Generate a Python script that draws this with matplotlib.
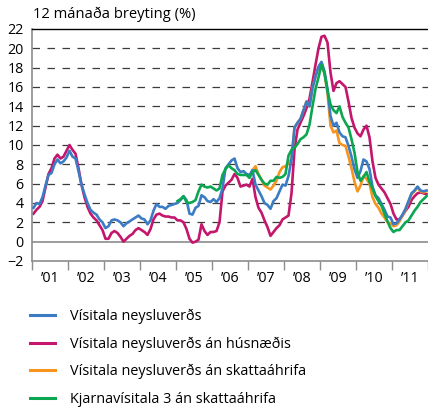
"""Verðbólga 2001-2011: vísitala neysluverðs og undirvísitölur, 12 mánaða breyting."""
import numpy as np
import matplotlib
matplotlib.use("Agg")
import matplotlib.pyplot as plt
from matplotlib.lines import Line2D

plt.rcParams["font.family"] = ["Open Sans", "DejaVu Sans"]

# monthly values, Jan 2001 - Dec 2011
START_YEAR = 2001
cpi = [3.5, 4.0, 3.9, 4.6, 5.8, 6.9, 7.1, 8.0, 8.5, 8.1, 8.3, 8.7,
       9.4, 8.8, 8.6, 7.3, 5.9, 4.9, 4.0, 3.3, 3.0, 2.8, 2.3, 2.0,
       1.4, 1.6, 2.2, 2.3, 2.2, 2.0, 1.6, 1.9, 2.1, 2.3, 2.5, 2.7,
       2.4, 2.3, 1.8, 2.2, 3.2, 3.9, 3.6, 3.6, 3.4, 3.7, 3.8, 3.9,
       4.0, 4.3, 4.7, 4.3, 2.9, 2.8, 3.5, 3.7, 4.8, 4.6, 4.2, 4.1,
       4.4, 4.1, 4.5, 5.5, 7.6, 8.0, 8.4, 8.6, 7.6, 7.2, 7.3, 7.0,
       6.9, 7.4, 5.9, 5.3, 4.7, 4.0, 3.8, 3.4, 4.2, 4.5, 5.2, 5.9,
       5.8, 6.8, 8.5, 11.8, 12.3, 12.7, 13.6, 14.5, 14.0, 15.9, 17.1, 18.1,
       18.6, 17.6, 15.8, 13.0, 12.0, 12.3, 11.3, 10.9, 10.8, 9.9, 8.8, 7.5,
       6.6, 7.3, 8.5, 8.3, 7.5, 5.7, 4.8, 4.5, 3.9, 3.3, 2.6, 2.5,
       1.8, 1.9, 2.3, 2.8, 3.4, 4.2, 5.0, 5.3, 5.7, 5.3, 5.2, 5.3]

cpi_ex_housing = [2.9, 3.3, 3.6, 4.2, 5.6, 7.0, 7.6, 8.6, 9.0, 8.6, 8.8, 9.4,
                  10.0, 9.5, 9.1, 7.6, 5.9, 4.6, 3.6, 2.9, 2.5, 2.2, 1.7, 1.2,
                  0.3, 0.3, 0.9, 1.1, 0.9, 0.5, 0.0, 0.3, 0.6, 0.8, 1.2, 1.4,
                  1.2, 1.0, 0.7, 1.3, 2.3, 2.8, 2.9, 2.7, 2.6, 2.6, 2.5, 2.5,
                  2.2, 2.2, 2.0, 1.3, 0.3, -0.1, 0.0, 0.2, 1.8, 1.1, 0.7, 1.0,
                  1.0, 1.1, 2.0, 5.2, 5.8, 6.1, 6.4, 7.0, 6.6, 5.7, 5.8, 5.9,
                  5.7, 6.5, 4.6, 3.5, 3.0, 2.2, 1.5, 0.6, 1.0, 1.4, 1.7, 2.3,
                  2.5, 2.7, 5.0, 9.5, 11.6, 12.3, 13.0, 13.8, 14.8, 16.5, 18.3, 20.0,
                  21.2, 21.3, 20.6, 17.5, 15.6, 16.4, 16.6, 16.3, 16.0, 14.5, 12.8, 11.8,
                  11.2, 10.9, 11.6, 12.0, 10.8, 8.3, 6.6, 5.9, 5.5, 5.1, 4.5, 3.9,
                  2.9, 2.3, 2.3, 2.7, 3.2, 3.6, 4.3, 4.7, 5.0, 5.1, 5.0, 4.9]

# án skattaáhrifa: from Feb 2007
ex_tax_start = 73
cpi_ex_tax = [7.4, 7.8, 7.0, 6.4, 5.8, 5.6, 5.4, 5.8, 6.3, 7.2, 7.7,
              7.8, 8.1, 8.6, 11.8, 12.3, 12.7, 13.6, 14.5, 14.0, 15.9, 17.1, 18.0,
              18.5, 17.4, 15.4, 12.0, 11.3, 11.5, 10.2, 10.0, 9.9, 8.8, 7.6, 6.2,
              5.2, 5.8, 6.8, 6.5, 6.0, 4.6, 3.9, 3.5, 2.9, 2.5, 2.0, 1.9,
              1.6, 1.7, 2.1, 2.7, 3.3, 4.1, 4.9, 5.2, 5.6, 5.2, 5.1, 5.2]

# kjarnavísitala 3: from Jan 2005
core_start = 48
core3_ex_tax = [4.2, 4.4, 4.7, 4.1, 4.0, 4.1, 4.3, 5.2, 5.9, 5.7, 5.6, 5.7,
                5.5, 5.3, 5.5, 6.9, 7.5, 7.9, 7.6, 7.4, 7.0, 6.9, 6.9, 6.9,
                6.6, 7.2, 7.4, 6.9, 6.4, 6.0, 5.9, 6.3, 6.3, 6.7, 6.6, 6.7,
                7.0, 8.9, 9.5, 9.7, 10.1, 10.6, 10.8, 11.1, 12.1, 14.0, 15.8, 17.0,
                18.3, 17.4, 15.6, 14.2, 13.6, 13.3, 14.0, 12.9, 12.3, 11.8, 10.6, 9.2,
                7.2, 6.3, 6.7, 7.2, 6.2, 5.5, 4.7, 4.2, 3.7, 2.9, 2.1, 1.4,
                1.0, 1.2, 1.2, 1.6, 2.0, 2.2, 2.7, 3.2, 3.6, 4.1, 4.4, 4.7]

labels = ["Vísitala neysluverðs", "Vísitala neysluverðs án húsnæðis",
          "Vísitala neysluverðs án skattaáhrifa", "Kjarnavísitala 3 án skattaáhrifa"]
colors = ["#3b7cc4", "#c4166c", "#f7941d", "#0ba650"]
year_labels = ["\u201901", "\u201902", "\u201903", "\u201904", "\u201905", "\u201906",
               "\u201907", "\u201908", "\u201909", "\u201910", "\u201911"]


def months(start, n):
    # points sit at the middle of each month
    return START_YEAR + (np.arange(start, start + n) + 0.5) / 12


fig = plt.figure(figsize=(4.28, 4.07), dpi=100)
ax = fig.add_axes([32 / 428, 1 - 261 / 407, 396 / 428, 232 / 407])

for v in range(2, 21, 2):
    ax.axhline(v, color="#3c3c3c", lw=0.9, dashes=(6, 6), zorder=1)
ax.axhline(0, color="#8c8c8c", lw=1.2, zorder=1)

lw = 1.9
ax.plot(months(0, len(cpi_ex_housing)), cpi_ex_housing, color=colors[1], lw=lw, zorder=2)
ax.plot(months(ex_tax_start, len(cpi_ex_tax)), cpi_ex_tax, color=colors[2], lw=lw, zorder=3)
ax.plot(months(0, len(cpi)), cpi, color=colors[0], lw=lw, zorder=4)
ax.plot(months(core_start, len(core3_ex_tax)), core3_ex_tax, color=colors[3], lw=lw, zorder=5)

ax.set_xlim(2001, 2012)
ax.set_ylim(-2, 22)
ax.set_yticks(range(-2, 23, 2))
ax.tick_params(axis="y", length=0, pad=6, labelsize=10.3)
ax.set_xticks(range(2001, 2013))
ax.set_xticklabels([])
ax.set_xticks(np.arange(2001.5, 2012), minor=True)
ax.set_xticklabels(year_labels, minor=True)
ax.tick_params(axis="x", which="major", length=6.5, width=1, color="#8c8c8c", direction="out")
ax.tick_params(axis="x", which="minor", length=0, pad=7, labelsize=10.3)

ax.spines["right"].set_visible(False)
ax.spines["top"].set_color("black")
ax.spines["top"].set_linewidth(1.0)
for s in ["left", "bottom"]:
    ax.spines[s].set_color("#8c8c8c")
    ax.spines[s].set_linewidth(1.2)

fig.text(33 / 428, 1 - 14 / 407, "12 mánaða breyting (%)", va="center", fontsize=10.6)

handles = [Line2D([], [], color=c, lw=2.2) for c in colors]
fig.legend(handles, labels, loc="upper left", bbox_to_anchor=(30 / 428, 1 - 309 / 407),
           frameon=False, borderpad=0, borderaxespad=0, handlelength=1.75,
           handletextpad=1.05, labelspacing=0.85, fontsize=10.4)

fig.savefig("out.png", dpi=100)
